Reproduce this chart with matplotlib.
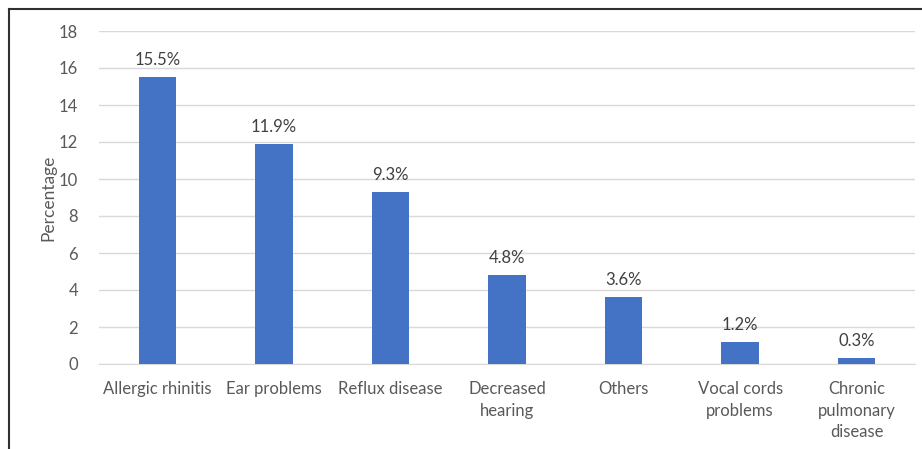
import matplotlib
matplotlib.use('Agg')
from matplotlib import pyplot as plt
from matplotlib.lines import Line2D

categories = ['Allergic rhinitis', 'Ear problems', 'Reflux disease', 'Decreased\nhearing',
              'Others', 'Vocal cords\nproblems', 'Chronic\npulmonary\ndisease']
values = [15.5, 11.9, 9.3, 4.8, 3.6, 1.2, 0.3]
yticks = [0, 2, 4, 6, 8, 10, 12, 14, 16, 18]

plt.rcParams['font.family'] = ['Lato', 'DejaVu Sans']
text_color = '#595959'

fig = plt.figure(figsize=(9.22, 4.49), dpi=100)
ax = fig.add_axes([99 / 922, 1 - 364 / 449, 816 / 922, 333 / 449])

x = range(len(categories))
bars = ax.bar(x, values, width=0.32, color='#4472C4', zorder=3)
for b, v in zip(bars, values):
    ax.text(b.get_x() + b.get_width() / 2, v + 0.5, f'{v}%', ha='center', va='bottom',
            fontsize=12, color='#404040')

ax.set_xlim(-0.5, len(categories) - 0.5)
ax.set_ylim(0, 18)
ax.set_yticks(yticks)
ax.set_xticks(list(x))
ax.set_xticklabels(categories, fontsize=12, color=text_color, linespacing=1.45)
ax.tick_params(axis='y', labelsize=12, labelcolor=text_color, length=0, pad=15)
ax.tick_params(axis='x', length=0, pad=12)
ax.grid(axis='y', color='#d9d9d9', linewidth=1, zorder=0)
for s in ['top', 'right', 'left']:
    ax.spines[s].set_visible(False)
ax.spines['bottom'].set_color('#d9d9d9')
ax.set_ylabel('Percentage', fontsize=12.5, color=text_color, labelpad=2)

# chart frame (only left and top edges visible)
fig.add_artist(Line2D([9 / 922, 9 / 922], [0, 1 - 9 / 449], color='#303030', linewidth=1.5,
                      transform=fig.transFigure))
fig.add_artist(Line2D([9 / 922, 1], [1 - 9 / 449, 1 - 9 / 449], color='#303030', linewidth=1.5,
                      transform=fig.transFigure))

fig.savefig('out.png', dpi=100)
